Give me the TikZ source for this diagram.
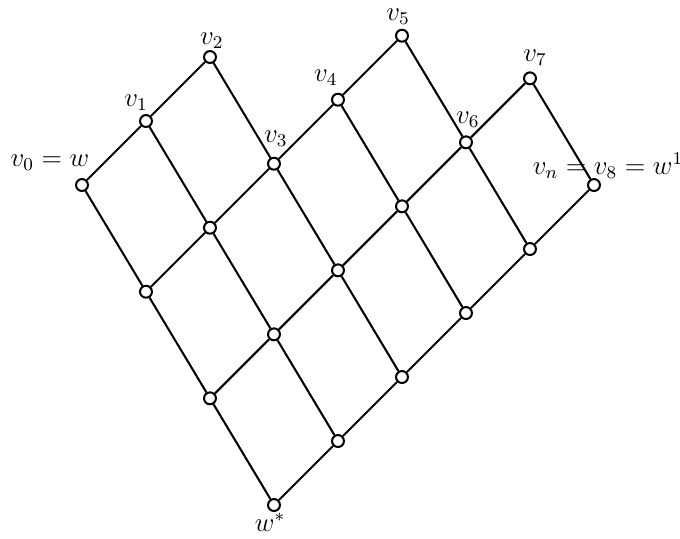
\documentclass[tikz,border=0pt]{standalone}
\usepackage{tikz}

\begin{document}
\begin{tikzpicture}[
        vertice/.style={circle,draw,fill=white,line width=0.9pt,inner sep=0pt,minimum size=5.3pt},
        etiqueta/.style={inner sep=0pt,font=\fontsize{11.5}{14}\selectfont},
        arista/.style={line width=0.9pt}
    ]
            \useasboundingbox (-1.281,-5.516) rectangle (9.344,2.891);
            % Vertices de la reticula
            \node[vertice] (p00) at (0,0) {};
            \node[vertice] (p01) at (1,-1.667) {};
            \node[vertice] (p02) at (2,-3.333) {};
            \node[vertice] (p03) at (3,-5) {};
            \node[vertice] (p10) at (1,1) {};
            \node[vertice] (p11) at (2,-0.667) {};
            \node[vertice] (p12) at (3,-2.333) {};
            \node[vertice] (p13) at (4,-4) {};
            \node[vertice] (p20) at (2,2) {};
            \node[vertice] (p21) at (3,0.333) {};
            \node[vertice] (p22) at (4,-1.333) {};
            \node[vertice] (p23) at (5,-3) {};
            \node[vertice] (p31) at (4,1.333) {};
            \node[vertice] (p32) at (5,-0.333) {};
            \node[vertice] (p33) at (6,-2) {};
            \node[vertice] (p41) at (5,2.333) {};
            \node[vertice] (p42) at (6,0.667) {};
            \node[vertice] (p43) at (7,-1) {};
            \node[vertice] (p52) at (7,1.667) {};
            \node[vertice] (p53) at (8,0) {};
            % Aristas hacia arriba
            \draw[arista] (p00) -- (p10) -- (p20);
            \draw[arista] (p01) -- (p11) -- (p21) -- (p31) -- (p41);
            \draw[arista] (p02) -- (p12) -- (p22) -- (p32) -- (p42) -- (p52);
            \draw[arista] (p03) -- (p13) -- (p23) -- (p33) -- (p43) -- (p53);
            % Aristas hacia abajo
            \draw[arista] (p00) -- (p01) -- (p02) -- (p03);
            \draw[arista] (p10) -- (p11) -- (p12) -- (p13);
            \draw[arista] (p20) -- (p21) -- (p22) -- (p23);
            \draw[arista] (p31) -- (p32) -- (p33);
            \draw[arista] (p41) -- (p42) -- (p43);
            \draw[arista] (p52) -- (p53);
            % Etiquetas
            \node[etiqueta] (l0) at (-0.5,0.344) {$v_0 = w$};
            \node[etiqueta] (l1) at (0.844,1.281) {$v_1$};
            \node[etiqueta] (l2) at (2.03,2.25) {$v_2$};
            \node[etiqueta] (l3) at (3.03,0.723) {$v_3$};
            \node[etiqueta] (l4) at (3.81,1.677) {$v_4$};
            \node[etiqueta] (l5) at (4.94,2.63) {$v_5$};
            \node[etiqueta] (l6) at (6.03,1.026) {$v_6$};
            \node[etiqueta] (l7) at (7.08,1.995) {$v_7$};
            \node[etiqueta] (l8) at (8.22,0.297) {$v_n = v_8 = w^1$};
            \node[etiqueta] (lw) at (2.94,-5.266) {$w^*$};
        \end{tikzpicture}
\end{document}
